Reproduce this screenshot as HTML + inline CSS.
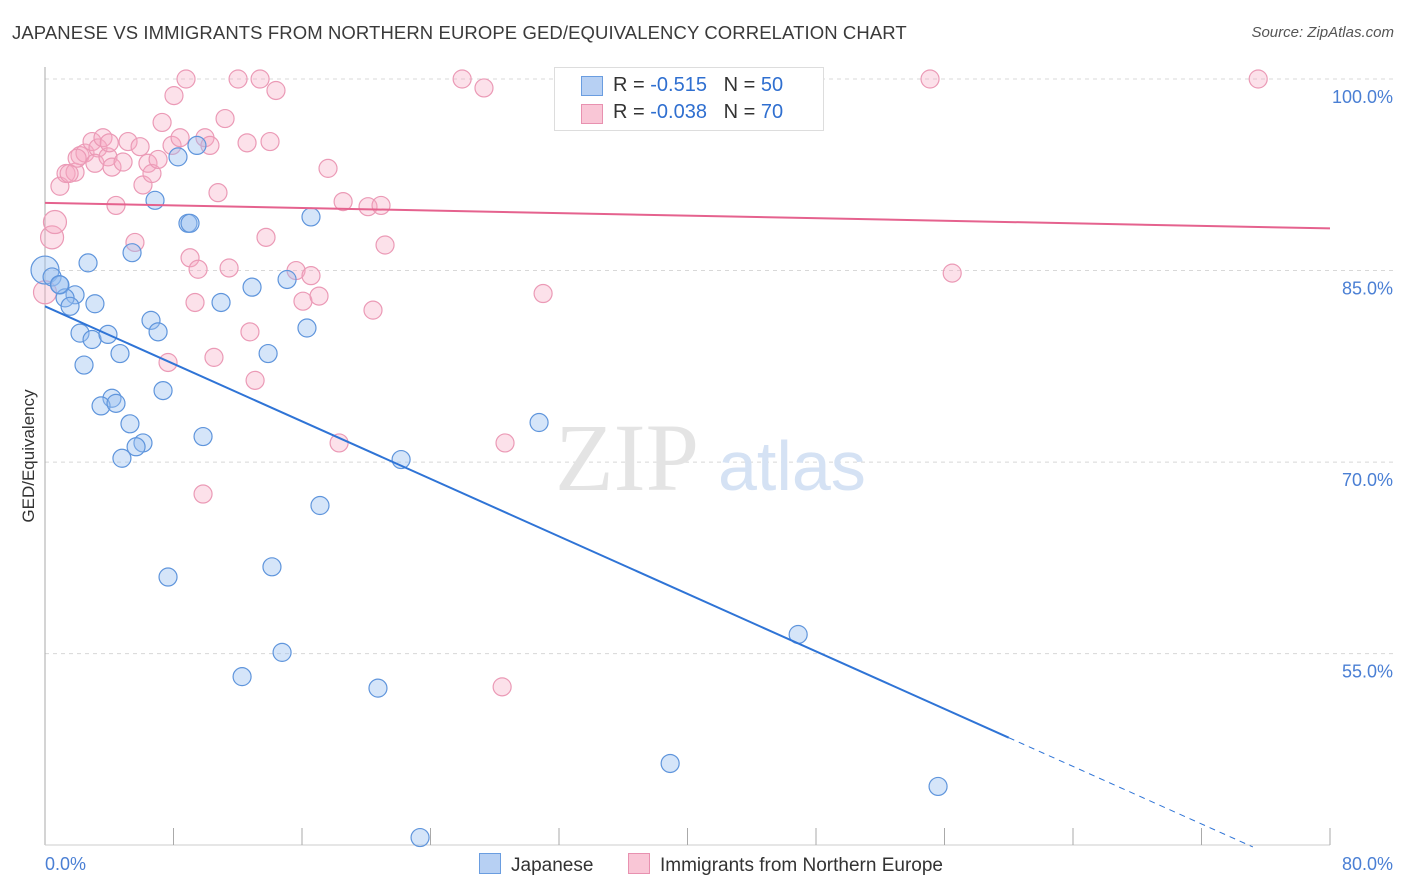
<!DOCTYPE html>
<html><head><meta charset="utf-8">
<style>
body{margin:0;background:#fff;font-family:"Liberation Sans",sans-serif;}
#wrap{position:relative;width:1406px;height:892px;overflow:hidden;}
.t{position:absolute;white-space:nowrap;}
</style></head>
<body><div id="wrap">
<div class="t" style="left:12px;top:22px;font-size:18.5px;color:#3a3a3a;letter-spacing:0.1px;">JAPANESE VS IMMIGRANTS FROM NORTHERN EUROPE GED/EQUIVALENCY CORRELATION CHART</div>
<div class="t" style="right:12px;top:24px;font-size:15px;font-style:italic;color:#555;">Source: ZipAtlas.com</div>
<svg id="svg" width="1406" height="892" style="position:absolute;left:0;top:0"></svg>
</div>
<script>
const xTicks=[0,80];
const yTicks=[100,85,70,55];
const japX=[0,0.44,0.93,1.87,1.25,1.56,3.11,2.68,2.18,2.93,3.92,4.67,2.43,6.85,5.42,8.28,9.46,8.9,9.03,16.56,12.89,15.07,10.96,6.6,7.04,13.89,16.31,7.35,4.17,3.49,4.42,5.29,6.1,5.67,4.79,9.84,22.17,30.76,17.12,7.66,14.13,14.76,12.27,20.73,46.89,38.92,55.6,23.35,36.92,0.9];
const japY=[85.04,84.5,83.87,83.1,82.86,82.2,82.4,85.6,80.1,79.6,80.0,78.5,77.6,90.5,86.4,93.9,94.8,88.7,88.7,89.2,83.7,84.3,82.5,81.1,80.2,78.5,80.5,75.6,75.0,74.4,74.6,73.0,71.5,71.2,70.3,72.0,70.2,73.1,66.6,61.0,61.8,55.1,53.2,52.3,56.5,46.4,44.6,40.6,100,83.9];
const nEurX=[0.44,0.62,0,0.93,1.31,1.87,2.18,2.49,2.93,3.3,3.61,3.11,3.92,4.42,4.17,4.86,5.17,5.92,6.41,6.1,6.66,7.04,7.29,7.91,8.41,8.03,8.78,9.96,10.27,11.21,12.02,13.39,14.38,12.58,14.01,10.77,5.6,9.03,9.53,11.46,13.76,12.76,13.08,10.52,7.66,9.84,9.34,15.63,16.56,16.06,17.06,17.62,18.56,20.11,20.92,21.17,20.42,18.31,25.97,27.33,28.64,31.01,28.46,33.06,55.1,56.48,75.53,1.5,2.0,4.0];
const nEurY=[87.6,88.8,83.3,91.6,92.6,92.7,94.0,94.2,95.1,94.6,95.4,93.4,93.9,90.1,93.1,93.5,95.1,94.7,93.4,91.7,92.6,93.7,96.6,94.8,95.4,98.7,100,95.4,94.8,96.9,100,100,99.1,95.0,95.1,91.1,87.2,86.0,85.1,85.2,87.6,80.2,76.4,78.2,77.8,67.5,82.5,85.0,84.6,82.6,83.0,93.0,90.4,90.0,90.1,87.0,81.9,71.5,100,99.3,71.5,83.2,52.4,100,100,84.8,100,92.6,93.8,95.0];
const japTrend=[82.2,-0.563];
const nEurTrend=[90.3,-0.025];

const X0=45,X1=1330,Y100=79,PX=12.77;
const sx=v=>X0+(X1-X0)*v/80;
const sy=v=>Y100+(100-v)*PX;
const svg=document.getElementById('svg');
const NS='http://www.w3.org/2000/svg';
function mk(tag,attrs,parent){const e=document.createElementNS(NS,tag);for(const k in attrs)e.setAttribute(k,attrs[k]);(parent||svg).appendChild(e);return e;}

yTicks.forEach(v=>{
 const l=mk('line',{x1:X0,x2:1393,y1:sy(v),y2:sy(v),stroke:'#d8d8d8','stroke-dasharray':'4,4'});
 
 
 const t=mk('text',{x:1393,y:sy(v)+24,'text-anchor':'end','font-size':18,fill:'#4a7fd4','font-family':'Liberation Sans, sans-serif'});
 t.textContent=v.toFixed(1)+'%';
 
 
});
const ax=mk('line',{x1:X0,x2:X0,y1:67,y2:845,stroke:'#aaa'});


const bx=mk('line',{x1:X0,x2:X1,y1:845,y2:845,stroke:'#ccc'});


for(let i=1;i<=10;i++){
 const tk=mk('line',{x1:sx(i*8),x2:sx(i*8),y1:828,y2:845,stroke:'#aaa'});
 
 
}
xTicks.forEach((v,i)=>{
 const t=mk('text',{x:i?1393:45,y:870,'text-anchor':i?'end':'start','font-size':18,fill:'#4a7fd4','font-family':'Liberation Sans, sans-serif'});
 t.textContent=v.toFixed(1)+'%';
 
 
});
const yt=mk('text',{x:34,y:456,transform:'rotate(-90 34 456)','text-anchor':'middle','font-size':17,fill:'#333','font-family':'Liberation Sans, sans-serif'});
yt.textContent='GED/Equivalency';


const wm=mk('text',{x:555,y:490,'font-size':96,fill:'#e4e4e4','font-family':'Liberation Serif, serif'});
wm.textContent='ZIP';


const wm2=mk('text',{x:718,y:490,'font-size':70,fill:'#d5e2f4','font-family':'Liberation Sans, sans-serif'});
wm2.textContent='atlas';



nEurX.forEach((x,i)=>{
 const c=mk('circle',{cx:sx(x),cy:sy(nEurY[i]),r:(i<3?11.5:9),fill:'rgba(245,170,195,0.35)',stroke:'#eb9ab6','stroke-width':1.2});
 
 
});
japX.forEach((x,i)=>{
 const c=mk('circle',{cx:sx(x),cy:sy(japY[i]),r:(i===0?14:9),fill:'rgba(150,190,240,0.4)',stroke:'#5f95dc','stroke-width':1.2});
 
 
});
const jt=mk('line',{x1:sx(0),y1:sy(japTrend[0]),x2:sx(60),y2:sy(japTrend[0]+japTrend[1]*60),stroke:'#2f74d6','stroke-width':2});


const jd=mk('line',{x1:sx(60),y1:sy(japTrend[0]+japTrend[1]*60),x2:sx(75.2),y2:sy(japTrend[0]+japTrend[1]*75.2),stroke:'#2f74d6','stroke-width':1,'stroke-dasharray':'6,5'});


const nt=mk('line',{x1:sx(0),y1:sy(nEurTrend[0]),x2:sx(80),y2:sy(nEurTrend[0]+nEurTrend[1]*80),stroke:'#e5628e','stroke-width':2});


</script>
<div class="t" style="left:554px;top:67px;width:268px;height:62px;border:1px solid #ddd;background:#fff;font-size:20px;color:#333;">
 <div style="position:absolute;left:26px;top:8px;width:20px;height:18px;background:#b7d0f3;border:1px solid #6a9de0;"></div>
 <div style="position:absolute;left:58px;top:6px;">R = <span style="color:#2f6fd0">-0.515</span>&nbsp;&nbsp;&nbsp;N = <span style="color:#2f6fd0">50</span></div>
 <div style="position:absolute;left:26px;top:36px;width:20px;height:18px;background:#f9c6d6;border:1px solid #e891b0;"></div>
 <div style="position:absolute;left:58px;top:33px;">R = <span style="color:#2f6fd0">-0.038</span>&nbsp;&nbsp;&nbsp;N = <span style="color:#2f6fd0">70</span></div>
</div>
<div class="t" style="left:479px;top:853px;font-size:19px;color:#333;"><span style="display:inline-block;width:20px;height:19px;background:#b7d0f3;border:1px solid #6a9de0;vertical-align:-3px;margin-right:10px;"></span>Japanese</div>
<div class="t" style="left:628px;top:853px;font-size:19px;color:#333;"><span style="display:inline-block;width:20px;height:19px;background:#f9c6d6;border:1px solid #e891b0;vertical-align:-3px;margin-right:10px;"></span>Immigrants from Northern Europe</div>
</body></html>
